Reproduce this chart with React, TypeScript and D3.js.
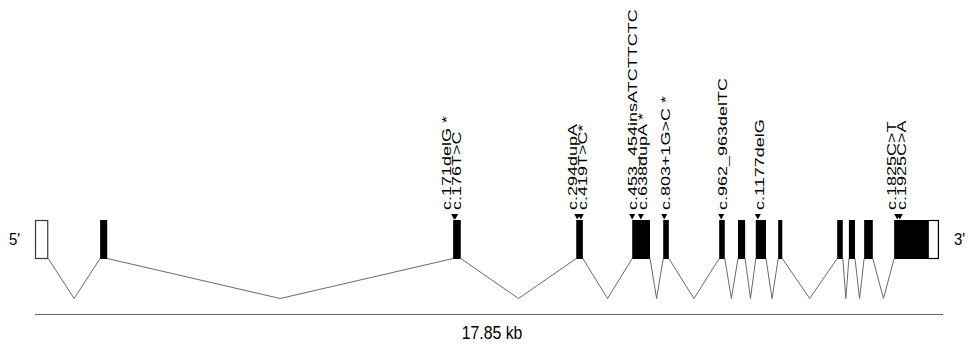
import React, { useRef, useEffect } from "react";
import * as d3 from "d3";

// gene length and exon coordinates, kb from 5' end
const geneLength = 17.85;
const utr5: [number, number] = [0, 0.26];
const codingExons: [number, number][] = [
  [1.28, 1.42],
  [8.22, 8.37],
  [10.64, 10.77],
  [11.74, 12.09],
  [12.35, 12.46],
  [13.45, 13.56],
  [13.82, 13.96],
  [14.17, 14.37],
  [14.61, 14.69],
  [15.77, 15.88],
  [16.0, 16.12],
  [16.3, 16.47],
  [16.89, 17.56],
];
const utr3: [number, number] = [17.56, 17.77];

// variants: label and position (kb)
const variantLabels = [
  "c.171delG *",
  "c.176T>C",
  "c.294dupA",
  "c.419T>C*",
  "c.453_454insATCTTCTC",
  "c.638dupA *",
  "c.803+1G>C *",
  "c.962_963delTC",
  "c.1177delG",
  "c.1825C>T",
  "c.1925C>A",
];
const variantPos = [8.24, 8.26, 10.66, 10.73, 11.74, 11.91, 12.37, 13.49, 14.21, 16.95, 17.0];

const scaleLabel = "17.85 kb";

export default function App() {
  const svgRef = useRef<SVGSVGElement>(null);

  useEffect(() => {
    const svg = d3.select(svgRef.current);
    svg.selectAll("*").remove();

    const font = "Arial, 'Liberation Sans', sans-serif";
    const x = d3.scaleLinear().domain([0, geneLength]).range([35, 943]);
    const top = 220.5;
    const bottom = 258.5;
    const valley = 298.5;

    // all exons in order, for the intron connectors
    const allExons: [number, number][] = [utr5, ...codingExons.slice(0, -1), [codingExons[codingExons.length - 1][0], utr3[1]]];

    const introns = d3.pairs(allExons);
    svg.append("g")
      .selectAll("path")
      .data(introns)
      .join("path")
        .attr("d", ([a, b]) => {
          const p = d3.path();
          p.moveTo(x(a[1]), bottom);
          p.lineTo(x((a[1] + b[0]) / 2), valley);
          p.lineTo(x(b[0]), bottom);
          return p.toString();
        })
        .attr("fill", "none")
        .attr("stroke", "#6a6a6a")
        .attr("stroke-width", 1);

    // 5' UTR
    svg.append("rect")
      .attr("x", x(utr5[0]) + 0.5)
      .attr("y", top)
      .attr("width", x(utr5[1]) - x(utr5[0]) - 1)
      .attr("height", bottom - top)
      .attr("fill", "white")
      .attr("stroke", "#4a3038")
      .attr("stroke-width", 1.2);

    // coding exons
    svg.append("g")
      .selectAll("rect")
      .data(codingExons)
      .join("rect")
        .attr("x", d => x(d[0]))
        .attr("y", top - 0.5)
        .attr("width", d => x(d[1]) - x(d[0]))
        .attr("height", bottom - top + 1)
        .attr("fill", "black");

    // 3' UTR
    svg.append("rect")
      .attr("x", x(utr3[0]))
      .attr("y", top)
      .attr("width", x(utr3[1]) - x(utr3[0]) - 0.5)
      .attr("height", bottom - top)
      .attr("fill", "white")
      .attr("stroke", "black")
      .attr("stroke-width", 1.2);

    // variant triangles
    svg.append("g")
      .selectAll("path")
      .data(variantPos)
      .join("path")
        .attr("d", d => {
          const cx = x(d);
          return `M${cx - 3},214 L${cx + 3},214 L${cx},219.5 Z`;
        })
        .attr("fill", "black");

    // label columns, pushed left when they collide
    const centers = variantPos.map(d => x(d) + 1);
    for (let i = centers.length - 2; i >= 0; i--) {
      if (centers[i + 1] - centers[i] < 10) centers[i] = centers[i + 1] - 10;
    }
    svg.append("g")
      .selectAll("text")
      .data(variantLabels)
      .join("text")
        .attr("transform", (d, i) => `translate(${centers[i] + 4.8},210) rotate(-90) scale(1,0.74)`)
        .style("font-family", font)
        .style("font-size", "18px")
        .attr("fill", "black")
        .text(d => d);

    // 5' and 3' labels
    svg.append("text")
      .attr("transform", "translate(9,245) scale(0.88,1)")
      .style("font-family", font)
      .style("font-size", "17px")
      .text("5'");
    svg.append("text")
      .attr("transform", "translate(954,245) scale(0.88,1)")
      .style("font-family", font)
      .style("font-size", "17px")
      .text("3'");

    // scale bar
    svg.append("line")
      .attr("x1", x(0))
      .attr("x2", x(geneLength))
      .attr("y1", 314.5)
      .attr("y2", 314.5)
      .attr("stroke", "#666")
      .attr("stroke-width", 1);
    svg.append("text")
      .attr("transform", `translate(${(x(0) + x(geneLength)) / 2 + 3},339) scale(0.88,1)`)
      .attr("text-anchor", "middle")
      .style("font-family", font)
      .style("font-size", "18px")
      .text(scaleLabel);
  }, []);

  return (
    <svg
      ref={svgRef}
      width={971}
      height={350}
      style={{ position: "absolute", left: 0, top: 0, background: "white" }}
    />
  );
}
